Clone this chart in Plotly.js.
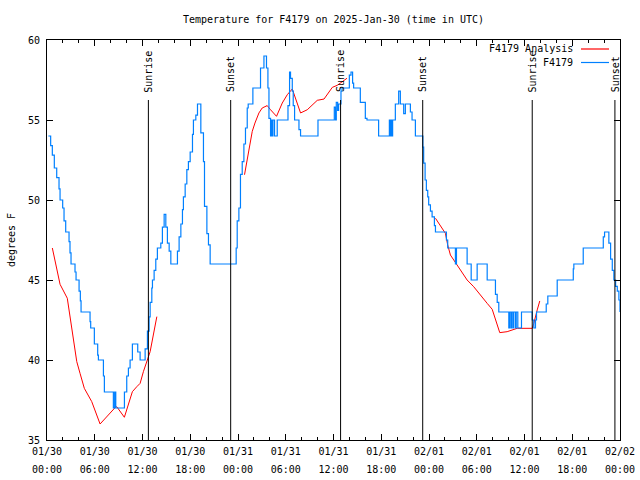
<!DOCTYPE html>
<html>
<head>
<meta charset="utf-8">
<script src="https://cdn.plot.ly/plotly-3.0.1.min.js"></script>
<style>html,body{margin:0;padding:0;background:#fff;}#chart{width:640px;height:480px;}</style>
</head>
<body>
<div id="chart"></div>
<script>
// Hours since 2025-01-30 00:00 UTC
var obsHours = [0.17,0.46,0.67,0.92,1.22,1.51,1.64,1.97,2.14,2.35,2.77,2.89,3.02,3.52,3.65,4.03,4.19,4.28,5.41,5.49,5.95,6.37,6.46,7.09,7.21,8.34,8.50,8.64,9.73,10.02,10.23,10.44,10.73,11.40,11.70,12.33,12.62,12.83,12.96,13.17,13.25,13.46,13.67,13.87,14.30,14.50,14.72,14.93,15.13,15.35,15.56,16.39,16.60,16.82,17.02,17.14,17.36,17.57,17.77,17.99,18.28,18.40,18.70,18.91,19.33,19.66,19.79,20.09,20.29,20.50,23.77,23.90,24.11,24.31,24.53,24.74,24.94,25.16,25.28,25.87,26.83,27.26,27.58,27.76,27.89,28.09,28.21,28.30,28.39,28.59,28.93,30.28,30.48,30.60,30.82,30.94,31.11,31.66,31.86,34.05,36.10,36.26,36.35,36.52,36.64,36.94,37.07,37.99,38.20,38.40,38.53,39.37,40.00,40.21,41.67,43.02,43.12,43.25,43.33,43.43,43.77,44.19,44.40,44.82,45.03,45.66,45.87,46.29,47.23,47.33,47.51,47.67,47.84,47.96,48.18,48.39,48.68,48.81,50.19,50.35,51.32,51.45,52.79,53.30,54.05,55.31,56.35,56.57,56.77,58.03,58.16,58.33,58.41,58.58,58.65,58.87,58.96,59.16,59.62,60.97,61.17,61.38,61.51,62.73,62.93,64.11,66.13,66.20,67.38,69.90,70.06,70.60,70.82,71.03,71.23,71.45,71.66,71.86,72.00];
var obsTempF = [54.0,53.4,52.8,52.0,51.4,50.7,50.0,49.5,48.7,48.0,47.4,46.7,46.0,45.5,45.0,44.3,43.7,43.0,42.4,42.0,41.0,40.3,40.0,39.0,38.0,37.0,38.0,37.0,38.0,39.0,39.5,40.0,41.0,40.5,40.0,40.7,41.8,42.7,43.6,44.5,45.0,45.6,46.3,47.0,47.3,48.3,49.1,48.3,47.3,46.8,46.0,46.8,47.7,48.5,49.4,50.2,51.0,51.9,52.4,53.0,54.1,55.0,55.3,56.0,54.2,52.4,49.6,47.9,47.2,46.0,47.0,48.7,49.5,51.6,52.4,53.5,54.5,55.75,56.0,57.0,58.25,59.0,58.25,57.0,55.1,54.0,55.0,54.0,55.0,54.0,55.0,55.9,58.0,57.6,56.8,55.9,55.0,54.4,54.0,55.0,55.8,55.0,56.1,55.6,56.0,56.8,57.0,57.8,58.0,57.3,57.0,56.1,55.1,55.0,54.0,55.0,54.0,55.0,54.0,55.0,56.0,56.8,56.0,55.4,56.0,55.5,55.0,54.0,53.3,52.3,51.25,50.6,50.2,49.7,49.3,48.95,48.4,48.0,47.5,47.0,46.0,47.0,46.0,45.0,46.0,45.0,44.1,43.6,43.0,42.0,43.0,42.0,43.0,42.0,43.0,42.0,43.0,42.0,43.0,42.5,42.0,42.5,43.0,43.5,44.0,45.0,45.7,46.0,47.0,47.7,48.0,47.3,46.3,45.6,45.0,44.6,44.3,43.75,43.0];

var anaHours = [0.67,1.01,1.64,2.55,2.89,3.23,3.74,4.15,4.69,5.62,6.04,6.67,8.55,8.77,9.72,10.73,11.28,11.70,12.11,12.54,12.96,13.80,null,24.82,25.16,25.45,25.79,26.13,26.63,27.04,27.67,28.09,28.84,29.56,30.19,30.82,31.86,32.70,33.33,33.96,34.81,35.85,36.48,37.70,null,48.81,49.65,50.06,50.35,50.69,51.11,51.53,52.16,52.79,53.62,54.25,55.31,55.94,56.35,56.89,57.82,58.65,59.08,60.97,61.17,61.60,61.92];
var anaTempF = [47.0,46.14,44.73,43.86,42.81,41.67,39.9,39.17,38.23,37.4,36.88,36.0,37.02,37.08,36.42,38.02,38.33,38.54,39.27,39.9,40.52,42.71,null,51.58,52.63,53.46,54.29,54.81,55.44,55.75,55.9,55.64,55.23,56.06,56.58,56.94,55.44,55.64,55.96,56.23,56.31,57.04,57.17,57.61,null,48.86,48.23,47.92,47.19,46.56,46.25,45.94,45.52,45.0,44.58,44.17,43.54,43.17,42.5,41.71,41.77,41.92,41.98,41.98,42.29,43.13,43.69];

var sunHours = [12.74,23.08,36.89,47.21,60.97,71.36];
var sunLabels = ["Sunrise","Sunset","Sunrise","Sunset","Sunrise","Sunset"];

var xTickVals = [0,6,12,18,24,30,36,42,48,54,60,66,72];
var xTickDates = ["01/30","01/30","01/30","01/30","01/31","01/31","01/31","01/31","02/01","02/01","02/01","02/01","02/02"];
var xTickTimes = ["00:00","06:00","12:00","18:00","00:00","06:00","12:00","18:00","00:00","06:00","12:00","18:00","00:00"];

var seriesNames = ["F4179 Analysis","F4179"];
var seriesColors = ["#ff0000","#0080ff"];

var FONT = "DejaVu Sans Mono";
var TF = {family: FONT, size: 10, color: '#000'};

var traces = [
  {x: anaHours, y: anaTempF, name: seriesNames[0], mode: 'lines', connectgaps: false,
   line: {color: seriesColors[0], width: 1}},
  {x: obsHours, y: obsTempF, name: seriesNames[1], mode: 'lines',
   line: {color: seriesColors[1], width: 1.2, shape: 'hv'}}
];

var shapes = [];
var annotations = [];
sunHours.forEach(function(h, i){
  shapes.push({type:'line', xref:'x', yref:'paper', x0:h, x1:h, y0:0, y1:0.85,
    line:{color:'#000', width:1}, layer:'above'});
  annotations.push({x:h, xref:'x', y:0.864, yref:'paper', text:sunLabels[i], textangle:-90,
    xanchor:'center', yanchor:'bottom', showarrow:false, font:TF});
});

// legend drawn at top right (text then sample line), gnuplot style
var legX1 = (575-47)/573, legS0 = (581-47)/573, legS1 = (609-47)/573;
var legY = [(440-49)/400, (440-62.5)/400];
seriesNames.forEach(function(n, i){
  annotations.push({x:legX1, xref:'paper', y:legY[i], yref:'paper', text:n, showarrow:false,
    xanchor:'right', yanchor:'middle', font:TF});
  shapes.push({type:'line', xref:'paper', yref:'paper', x0:legS0, x1:legS1, y0:legY[i], y1:legY[i],
    line:{color:seriesColors[i], width:1.2}});
});

var layout = {
  width: 640, height: 480,
  margin: {l: 47, r: 20, t: 40, b: 40, pad: 0},
  paper_bgcolor: '#fff', plot_bgcolor: '#fff',
  showlegend: false,
  font: TF,
  title: {text: 'Temperature for F4179 on 2025-Jan-30 (time in UTC)', font: TF,
          x: 0.5, xref: 'paper', y: 1 - 19/480, yref: 'container', yanchor: 'middle'},
  xaxis: {range: [0, 72], tickmode: 'array', tickvals: xTickVals, ticktext: xTickDates,
    ticks: 'inside', ticklen: 6, tickcolor: '#000', showline: true, linecolor: '#000', linewidth: 1,
    mirror: 'ticks', showgrid: false, zeroline: false, ticklabelstandoff: 2,
    minor: {dtick: 2, tick0: 0, ticks: 'inside', ticklen: 3, tickcolor: '#000', showgrid: false},
    tickfont: TF},
  xaxis2: {matches: 'x', overlaying: 'x', anchor: 'y', side: 'bottom', range: [0, 72],
    tickmode: 'array', tickvals: xTickVals, ticktext: xTickTimes,
    ticks: '', showline: false, showgrid: false, zeroline: false, ticklabelstandoff: 22, tickfont: TF},
  yaxis: {range: [35, 60], dtick: 5, tick0: 35,
    ticks: 'inside', ticklen: 6, tickcolor: '#000', showline: true, linecolor: '#000', linewidth: 1,
    mirror: 'ticks', showgrid: false, zeroline: false, ticklabelstandoff: 4,
    tickfont: TF,
    title: {text: 'degrees F', font: TF, standoff: 10}},
  shapes: shapes,
  annotations: annotations
};

// invisible trace so the second (time-row) axis is drawn
traces.push({x: [xTickVals[0]], y: [obsTempF[0]], xaxis: 'x2', yaxis: 'y', mode: 'lines',
  hoverinfo: 'skip', showlegend: false, line: {color: 'rgba(0,0,0,0)'}});

Plotly.newPlot('chart', traces, layout, {staticPlot: true, displayModeBar: false});
</script>
</body>
</html>
